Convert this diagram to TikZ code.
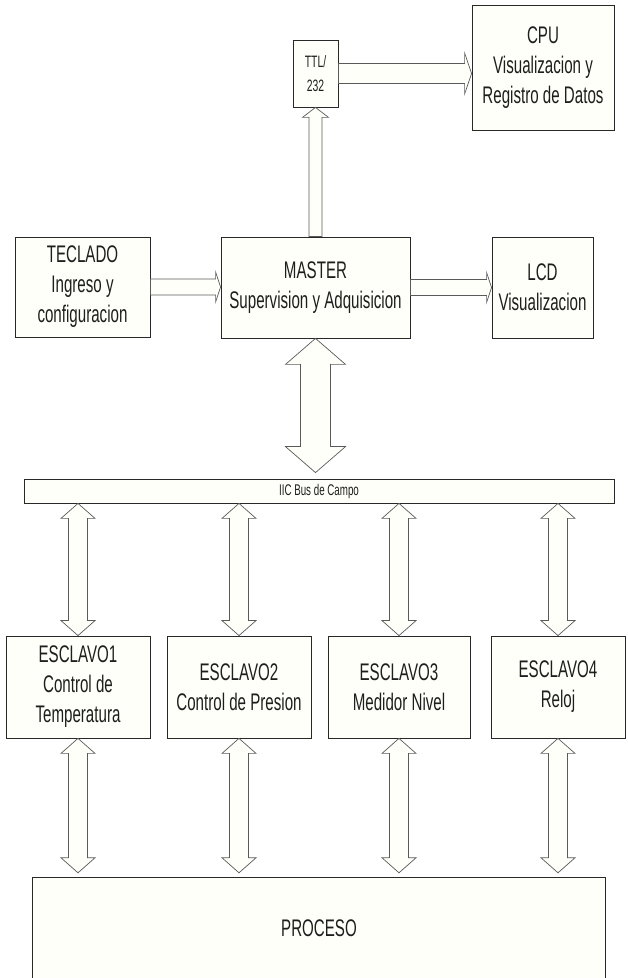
\documentclass[tikz,border=0pt]{standalone}
\usepackage{fontspec}
\setmainfont{Liberation Sans}[FakeStretch=0.63]
\usetikzlibrary{calc}
\definecolor{boxfill}{RGB}{255,255,250}
\definecolor{edge}{RGB}{40,40,40}
\definecolor{arredge}{RGB}{90,90,90}
\definecolor{txt}{RGB}{30,30,30}
% vertical double block arrow: #1 top point, #2 bottom point, #3 shaft half, #4 head half, #5 head length
\newcommand\blockdarrow[5]{\draw[arr] let \p1=#1, \p2=#2 in
  (\x1,\y1) -- (\x1+#4,\y1-#5) -- (\x1+#3,\y1-#5) -- (\x1+#3,\y2+#5) -- (\x1+#4,\y2+#5) -- (\x1,\y2)
  -- (\x1-#4,\y2+#5) -- (\x1-#3,\y2+#5) -- (\x1-#3,\y1-#5) -- (\x1-#4,\y1-#5) -- cycle;}
% horizontal single block arrow: #1 start, #2 tip
\newcommand\blockharrow[5]{\draw[arr] let \p1=#1, \p2=#2 in
  (\x1,\y1+#3) -- (\x2-#5,\y1+#3) -- (\x2-#5,\y1+#4) -- (\x2,\y1) -- (\x2-#5,\y1-#4) -- (\x2-#5,\y1-#3) -- (\x1,\y1-#3) -- cycle;}
% vertical upward single block arrow: #1 start (bottom), #2 tip (top)
\newcommand\blockvarrow[5]{\draw[arr] let \p1=#1, \p2=#2 in
  (\x1-#3,\y1) -- (\x1-#3,\y2-#5) -- (\x1-#4,\y2-#5) -- (\x1,\y2) -- (\x1+#4,\y2-#5) -- (\x1+#3,\y2-#5) -- (\x1+#3,\y1) -- cycle;}
\begin{document}
\begin{tikzpicture}[x=1pt,y=1pt,
  blk/.style={draw=edge,fill=boxfill,line width=0.8pt,inner sep=0pt,align=center,text=txt,font=\fontsize{24}{30}\selectfont},
  arr/.style={draw=arredge,fill=boxfill,line width=0.7pt,line join=miter}]
\useasboundingbox (0,0) rectangle (628,978);

\node[blk,minimum width=142pt,minimum height=125pt] (cpu) at (543,910.5) {CPU\\Visualizacion y\\Registro de Datos};
\node[blk,minimum width=45pt,minimum height=67pt,font=\fontsize{16.5}{24}\selectfont] (ttl) at (315.5,904.5) {TTL/\\232};
\node[blk,minimum width=135pt,minimum height=100pt] (teclado) at (82.5,691) {TECLADO\\Ingreso y\\configuracion};
\node[blk,minimum width=189pt,minimum height=101pt] (master) at (315.5,690.5) {MASTER\\Supervision y Adquisicion};
\node[blk,minimum width=101pt,minimum height=101pt] (lcd) at (542.5,690.5) {LCD\\Visualizacion};
\node[blk,minimum width=590pt,minimum height=24pt,font=\fontsize{15.5}{18}\selectfont] (bus) at (319,487) {IIC Bus de Campo};
\node[blk,minimum width=144pt,minimum height=102pt] (e1) at (78,291) {ESCLAVO1\\Control de\\Temperatura};
\node[blk,minimum width=144pt,minimum height=102pt] (e2) at (239,291) {ESCLAVO2\\Control de Presion};
\node[blk,minimum width=142pt,minimum height=102pt] (e3) at (399,291) {ESCLAVO3\\Medidor Nivel};
\node[blk,minimum width=134pt,minimum height=102pt] (e4) at (558,291) {ESCLAVO4\\Reloj};
\node[fill=boxfill,inner sep=0pt,minimum width=572pt,minimum height=100pt,text=txt,font=\fontsize{24}{28}\selectfont] (proceso) at (319,50) {PROCESO};
\draw[draw=edge,line width=0.8pt] (proceso.south west) -- (proceso.north west) -- (proceso.north east) -- (proceso.south east);

\blockharrow{(ttl.east)}{(cpu.west |- ttl.east)}{10pt}{20.5pt}{7pt}
\blockvarrow{(master.north -| ttl.south)}{(ttl.south)}{6.5pt}{13pt}{10pt}
\blockharrow{(teclado.east)}{(master.west |- teclado.east)}{8pt}{15pt}{5pt}
\blockharrow{(master.east)}{(lcd.west |- master.east)}{8pt}{15pt}{5pt}
\blockdarrow{(master.south)}{($(bus.north)+(0,6)$)}{15pt}{30pt}{26pt}

\foreach \e in {e1,e2,e3,e4}{
  \blockdarrow{(bus.south -| \e.north)}{(\e.north)}{9.5pt}{17pt}{15pt}
  \blockdarrow{(\e.south)}{($(\e.south |- proceso.north)+(0,5)$)}{9.5pt}{17pt}{15pt}
}
\end{tikzpicture}
\end{document}
